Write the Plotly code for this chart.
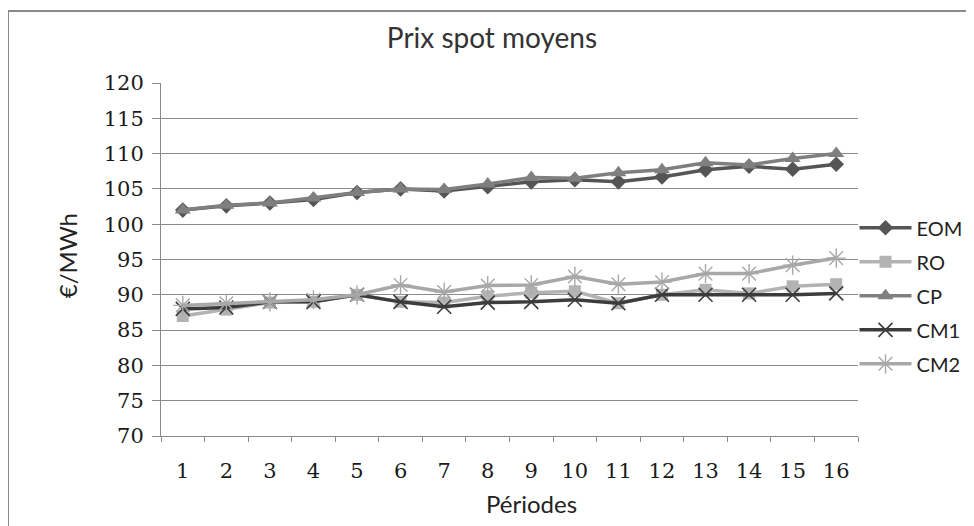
import plotly.graph_objects as go

periods = [str(i) for i in range(1, 17)]
eom = [102.0, 102.6, 103.0, 103.5, 104.5, 105.0, 104.7, 105.3, 106.0, 106.3, 106.0, 106.7, 107.7, 108.2, 107.8, 108.5]
ro = [87.0, 87.9, 88.9, 89.0, 90.0, 89.0, 88.9, 89.8, 90.3, 90.5, 88.8, 90.0, 90.7, 90.2, 91.2, 91.5]
cp = [102.0, 102.7, 103.0, 103.7, 104.5, 105.0, 104.9, 105.7, 106.6, 106.5, 107.3, 107.7, 108.7, 108.4, 109.3, 110.0]
cm1 = [88.0, 88.2, 89.0, 89.0, 90.0, 89.0, 88.3, 88.9, 89.0, 89.3, 88.8, 90.0, 90.0, 90.0, 90.0, 90.2]
cm2 = [88.5, 88.8, 89.0, 89.3, 90.0, 91.4, 90.4, 91.3, 91.4, 92.6, 91.5, 91.8, 93.0, 93.0, 94.2, 95.2]

series = [
    ("EOM", eom, "#555555", "diamond", 12, 0),
    ("RO", ro, "#b3b3b3", "square", 12, 0),
    ("CP", cp, "#7f7f7f", "triangle-up", 14, 0),
    ("CM1", cm1, "#3c3c3c", "x-thin", 14, 1.6),
    ("CM2", cm2, "#a8a8a8", "asterisk", 16, 1.4),
]

SANS = "Lato, Open Sans, sans-serif"
SERIF = "DejaVu Serif, serif"

PW = 697  # plot width in px

fig = go.Figure()
for name, vals, color, sym, size, mlw in series:
    marker = dict(symbol=sym, size=size, color=color)
    if sym in ("x-thin", "asterisk"):
        marker["line"] = dict(color=color, width=mlw)
    fig.add_trace(go.Scatter(
        x=periods, y=vals, name=name, mode="lines+markers",
        line=dict(color=color, width=3.5), marker=marker,
        legendgroup=name,
    ))

fig.update_layout(
    width=966, height=518,
    margin=dict(l=153, r=116, t=75, b=90, autoexpand=False),
    paper_bgcolor="white", plot_bgcolor="white",
    title=dict(text="Prix spot moyens", x=0.501, xanchor="center", y=0.942, yanchor="middle",
               font=dict(family=SANS, size=28, color="#333333")),
    showlegend=True,
    legend=dict(x=0.995, xanchor="left", y=0.645, yanchor="top",
                font=dict(family=SANS, size=20, color="#222222"),
                tracegroupgap=5, itemwidth=52, bgcolor="rgba(0,0,0,0)"),
    shapes=[dict(type="rect", xref="paper", yref="paper",
                 x0=-153/PW, x1=1.4, y0=-0.5, y1=1 + 72/353,
                 line=dict(color="#8a8a8a", width=2), layer="below")],
    annotations=[
        dict(text="Périodes", xref="paper", yref="paper", x=0.532, y=-0.19,
             xanchor="center", yanchor="middle", showarrow=False,
             font=dict(family=SANS, size=24, color="#222222")),
        dict(text="€/MWh", xref="paper", yref="paper", x=-0.135, y=0.512,
             xanchor="center", yanchor="middle", showarrow=False, textangle=-90,
             font=dict(family=SANS, size=24, color="#222222")),
    ],
)

fig.update_xaxes(
    type="category", tickson="boundaries", ticks="outside", ticklen=5,
    tickcolor="#8a8a8a", showline=True, linecolor="#8a8a8a", linewidth=1,
    showgrid=False, range=[-0.5, 15.5], ticklabelstandoff=16,
    tickfont=dict(family=SERIF, size=21, color="#1a1a1a"),
)
fig.update_yaxes(
    range=[70, 120], dtick=5, tick0=70, ticks="outside", ticklen=8,
    tickcolor="#8a8a8a", showline=True, linecolor="#8a8a8a", linewidth=1,
    showgrid=True, gridcolor="#8c8c8c", gridwidth=1, zeroline=False,
    ticklabelstandoff=4,
    tickfont=dict(family=SERIF, size=21, color="#1a1a1a"),
)

fig.write_html("out.html")
